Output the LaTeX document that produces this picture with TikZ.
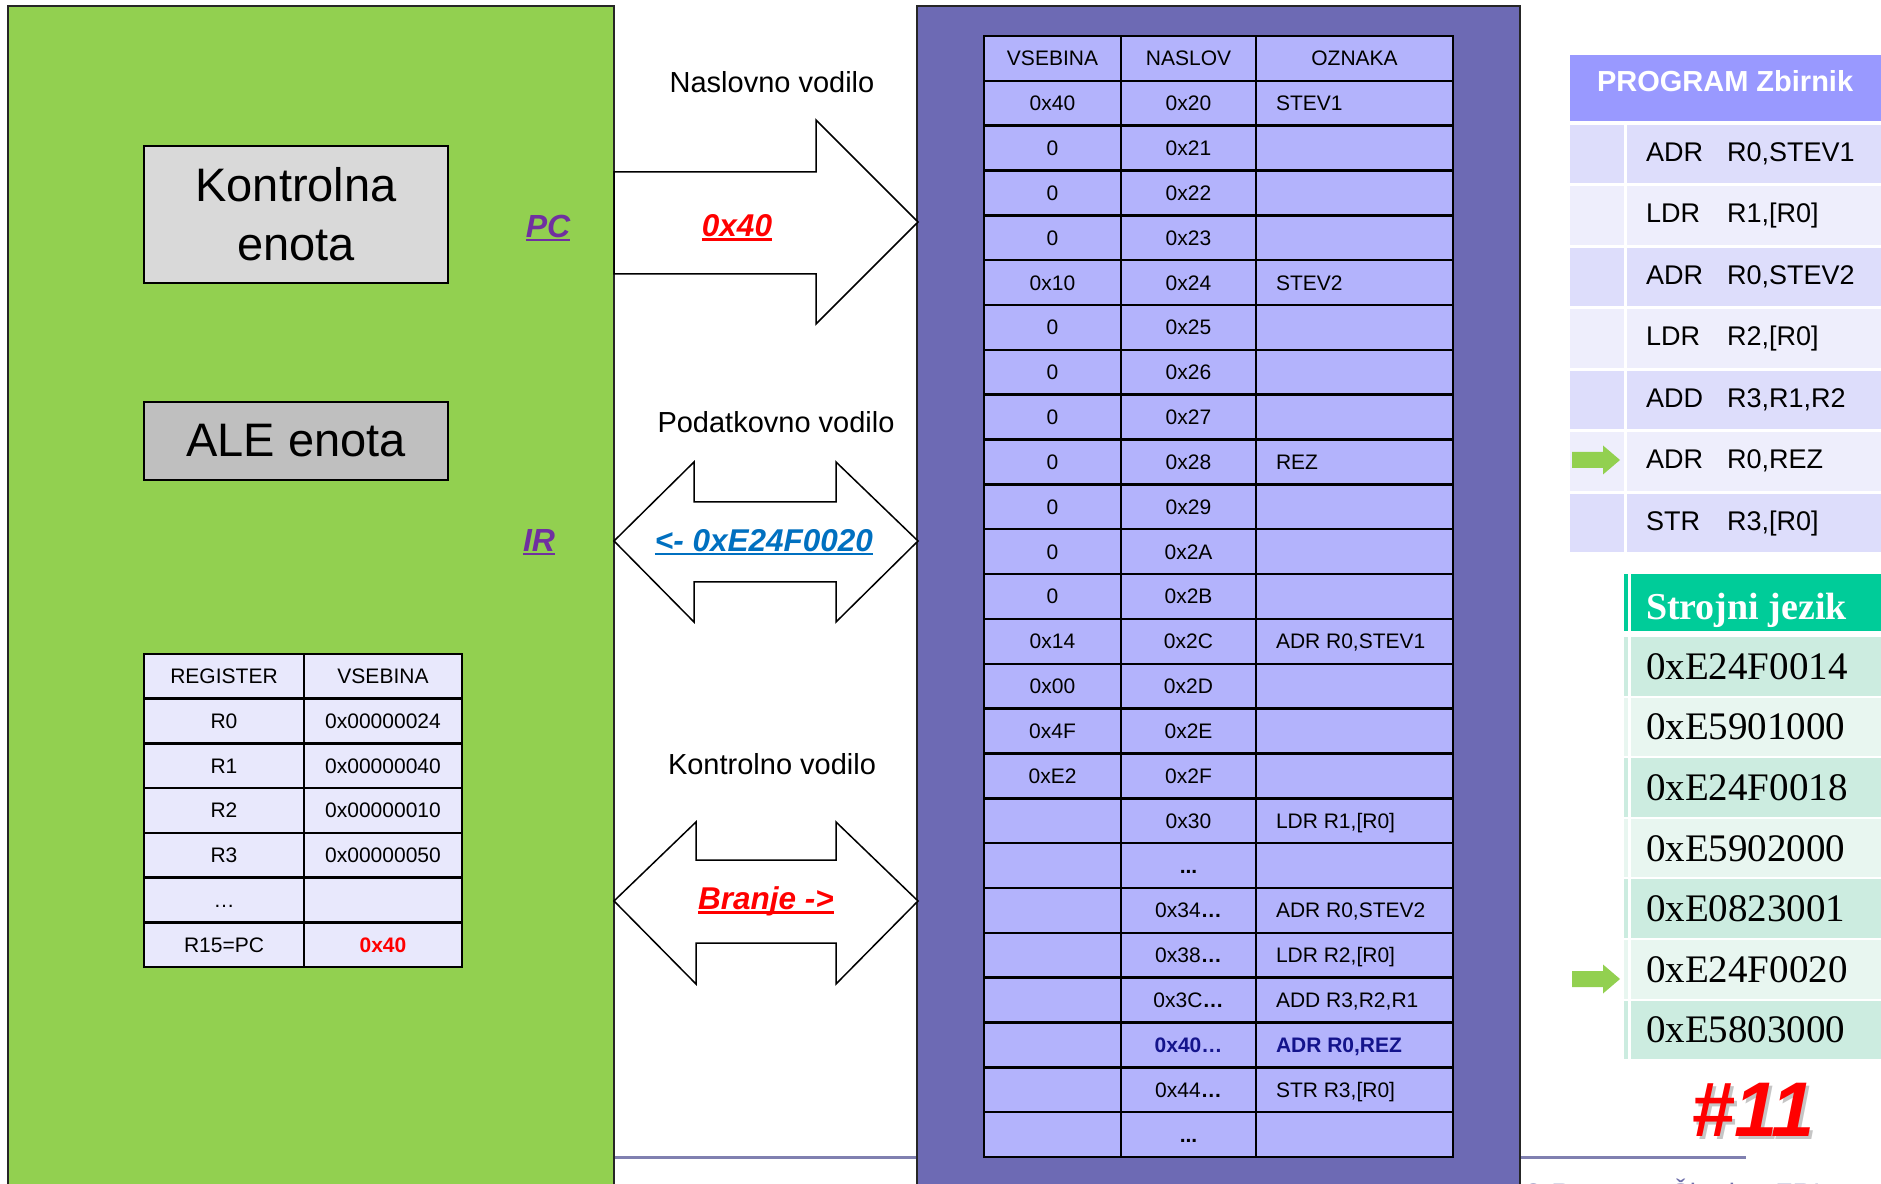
\documentclass[tikz,border=0pt]{standalone}
\usepackage{fontspec}
\setmainfont{Liberation Sans}
\newfontfamily\serifjz{Liberation Serif}
\definecolor{greenbox}{RGB}{146,208,80}
\definecolor{purplebox}{RGB}{109,106,180}
\definecolor{memcell}{RGB}{179,179,252}
\definecolor{regcell}{RGB}{232,232,252}
\definecolor{kgray}{RGB}{217,217,217}
\definecolor{alegray}{RGB}{191,191,191}
\definecolor{pcpurple}{RGB}{112,48,160}
\definecolor{irblue}{RGB}{0,112,192}
\definecolor{navyb}{RGB}{20,20,140}
\definecolor{proghead}{RGB}{153,153,255}
\definecolor{progrow0}{RGB}{221,221,251}
\definecolor{progrow1}{RGB}{238,238,252}
\definecolor{sjhead}{RGB}{0,204,153}
\definecolor{sjrow0}{RGB}{204,236,224}
\definecolor{sjrow1}{RGB}{232,246,240}
\definecolor{footline}{RGB}{128,128,176}
\definecolor{foottext}{RGB}{110,110,170}
\newsavebox\ulbox
\newcommand\thickul[1]{\sbox\ulbox{#1}\usebox\ulbox\llap{\rule[-1.6pt]{\wd\ulbox}{1.1pt}}}
\begin{document}
\begin{tikzpicture}[x=0.4pt,y=-0.4pt,
  every node/.style={inner sep=0pt,outer sep=0pt},
  frame/.style={draw=black!85,line width=0.8pt},
  tline/.style={draw=black,line width=1pt},
  bus/.style={draw=black,line width=0.6pt,fill=white,line join=miter},
  bustxt/.style={anchor=base,font=\fontsize{11.6}{14}\selectfont},
  buslbl/.style={anchor=base,font=\fontsize{12.6}{15}\selectfont\bfseries\itshape},
  cell/.style={anchor=base,font=\fontsize{8.4}{10}\selectfont},
  cellw/.style={anchor=base west,font=\fontsize{8.4}{10}\selectfont},
  unitbox/.style={draw=black,line width=0.8pt,align=center,font=\fontsize{18.8}{23.6}\selectfont,minimum width=121.6pt},
  prog/.style={anchor=base west,font=\fontsize{10.8}{13}\selectfont},
  sj/.style={anchor=base west,font=\serifjz\fontsize{15.6}{18}\selectfont},
]
\useasboundingbox (0,0) rectangle (1881,1184);
\fill[white] (0,0) rectangle (1881,1184);

% footer
\draw[footline,line width=1.2pt] (614,1157) -- (1746,1157);
\node[anchor=base west,text=foottext,font=\fontsize{11.2}{13}\selectfont] (foot) at (1523,1203) {© Rozman, Škraba, FRI};

% big blocks
\path[frame,fill=greenbox] (8,6) rectangle (614,1200);
\path[frame,fill=purplebox] (917,6) rectangle (1520,1200);

% CPU units
\node[unitbox,fill=kgray,minimum height=54.8pt] (ke) at (296,214.5) {Kontrolna\\enota};
\node[unitbox,fill=alegray,minimum height=31.2pt] (ale) at (296,441) {ALE enota};
\node[anchor=base,text=pcpurple,font=\fontsize{12.8}{15}\selectfont\bfseries\itshape] (pc) at (548,237.5) {\thickul{PC}};
\node[anchor=base,text=pcpurple,font=\fontsize{12.8}{15}\selectfont\bfseries\itshape] (ir) at (539,551.5) {\thickul{IR}};

% register table
\fill[regcell] (144,654) rectangle (462,967);
\foreach \i in {1,...,6} \draw[tline] (144,{654+\i*44.71}) -- (462,{654+\i*44.71});
\draw[tline] (304,654) -- (304,967);
\draw[tline] (144,654) rectangle (462,967);
\foreach \a/\b [count=\i from 0] in {REGISTER/VSEBINA, R0/0x00000024, R1/0x00000040, R2/0x00000010, R3/0x00000050, {…}/{}, R15=PC/{\textcolor{red}{\bfseries 0x40}}} {
  \node[cell] (reg-\i-a) at (224,{654+(\i+0.5)*44.71+7.5}) {\a};
  \node[cell] (reg-\i-b) at (383,{654+(\i+0.5)*44.71+7.5}) {\b};
}

% buses
\draw[bus] (614,172) -- (816,172) -- (816,120) -- (918,222) -- (816,324) -- (816,274) -- (614,274) -- cycle;
\draw[bus] (614,541) -- (694,462) -- (694,502) -- (836,502) -- (836,462) -- (918,541) -- (836,622) -- (836,582) -- (694,582) -- (694,622) -- cycle;
\draw[bus] (614,901) -- (696,822) -- (696,860) -- (836,860) -- (836,822) -- (918,901) -- (836,984) -- (836,943) -- (696,943) -- (696,984) -- cycle;
\node[bustxt] (nv) at (772,92.4) {Naslovno vodilo};
\node[bustxt] (pv) at (776,432.4) {Podatkovno vodilo};
\node[bustxt] (kv) at (772,774.4) {Kontrolno vodilo};
\node[buslbl,text=red] (addr) at (737,237) {\thickul{0x40}};
\node[buslbl,text=irblue] (data) at (764,551.5) {\thickul{<- 0xE24F0020}};
\node[buslbl,text=red] (ctrl) at (766,909.5) {\thickul{Branje ->}};

% memory table
\fill[memcell] (984,36) rectangle (1453,1157);
\foreach \i in {1,...,24} \draw[tline] (984,{36+\i*44.84}) -- (1453,{36+\i*44.84});
\foreach \xx in {1121,1256} \draw[tline] (\xx,36) -- (\xx,1157);
\draw[tline] (984,36) rectangle (1453,1157);
\node[cell] (mh-a) at (1052.5,{36+0.5*44.84+7.5}) {VSEBINA};
\node[cell] (mh-b) at (1188.5,{36+0.5*44.84+7.5}) {NASLOV};
\node[cell] (mh-c) at (1354.5,{36+0.5*44.84+7.5}) {OZNAKA};
\foreach \a/\b/\c [count=\i] in {
 0x40/0x20/STEV1, 0/0x21/{}, 0/0x22/{}, 0/0x23/{}, 0x10/0x24/STEV2,
 0/0x25/{}, 0/0x26/{}, 0/0x27/{}, 0/0x28/REZ, 0/0x29/{}, 0/0x2A/{}, 0/0x2B/{},
 0x14/0x2C/{ADR R0,STEV1}, 0x00/0x2D/{}, 0x4F/0x2E/{}, 0xE2/0x2F/{},
 {}/0x30/{LDR R1,[R0]}, {}/{\textbf{...}}/{},
 {}/{0x34\textbf{…}}/{ADR R0,STEV2}, {}/{0x38\textbf{…}}/{LDR R2,[R0]},
 {}/{0x3C\textbf{…}}/{ADD R3,R2,R1},
 {}/{\textcolor{navyb}{\bfseries 0x40…}}/{\textcolor{navyb}{\bfseries ADR R0,REZ}},
 {}/{0x44\textbf{…}}/{STR R3,[R0]}, {}/{\textbf{...}}/{}} {
  \node[cell] (m-\i-a) at (1052.5,{36+(\i+0.5)*44.84+7.5}) {\a};
  \node[cell] (m-\i-b) at (1188.5,{36+(\i+0.5)*44.84+7.5}) {\b};
  \node[cellw] (m-\i-c) at (1276,{36+(\i+0.5)*44.84+7.5}) {\c};
}

% program (assembler)
\fill[proghead] (1570,55) rectangle (1881,121);
\node[anchor=base west,text=white,font=\fontsize{11.6}{14}\selectfont\bfseries] (ph) at (1597,92) {PROGRAM Zbirnik};
\foreach \m/\o [count=\i from 0] in {ADR/{R0,STEV1}, LDR/{R1,[R0]}, ADR/{R0,STEV2}, LDR/{R2,[R0]}, ADD/{R3,R1,R2}, ADR/{R0,REZ}, STR/{R3,[R0]}} {
  \pgfmathtruncatemacro\r{mod(\i,2)}
  \edef\rc{progrow\r}
  \fill[fill=\rc] (1570,{125+\i*61.5}) rectangle (1624,{125+\i*61.5+58.5});
  \fill[fill=\rc] (1627,{125+\i*61.5}) rectangle (1881,{125+\i*61.5+58.5});
  \node[prog] (pm-\i) at (1646,{125+\i*61.5+36.5}) {\m};
  \node[prog] (po-\i) at (1727,{125+\i*61.5+36.5}) {\o};
}

% machine code
\fill[sjhead] (1624,574) rectangle (1628,631);
\fill[sjhead] (1631,574) rectangle (1881,631);
\node[anchor=base west,text=white,font=\serifjz\bfseries\fontsize{15.2}{18}\selectfont] (sh) at (1646,620) {Strojni jezik};
\foreach \v [count=\i from 0] in {0xE24F0014, 0xE5901000, 0xE24F0018, 0xE5902000, 0xE0823001, 0xE24F0020, 0xE5803000} {
  \pgfmathtruncatemacro\r{mod(\i,2)}
  \edef\rc{sjrow\r}
  \fill[fill=\rc] (1624,{637+\i*60.6}) rectangle (1628,{637+\i*60.6+58.6});
  \fill[fill=\rc] (1631,{637+\i*60.6}) rectangle (1881,{637+\i*60.6+58.6});
  \node[sj] (sj-\i) at (1646,{637+\i*60.6+42.3}) {\v};
}

% green pointer arrows
\foreach \yy in {460,979} \fill[greenbox,shift={(1572,\yy)}] (0,-8) -- (31,-8) -- (31,-14.5) -- (48,0) -- (31,14.5) -- (31,8) -- (0,8) -- cycle;

% step number
\node[anchor=base,text=black!45,opacity=0.5,font=\fontsize{31}{35}\selectfont\bfseries\itshape] (n11s) at (1756,1139) {\#11};
\node[anchor=base,text=red,font=\fontsize{31}{35}\selectfont\bfseries\itshape] (n11) at (1753,1136) {\#11};
\end{tikzpicture}
\end{document}
